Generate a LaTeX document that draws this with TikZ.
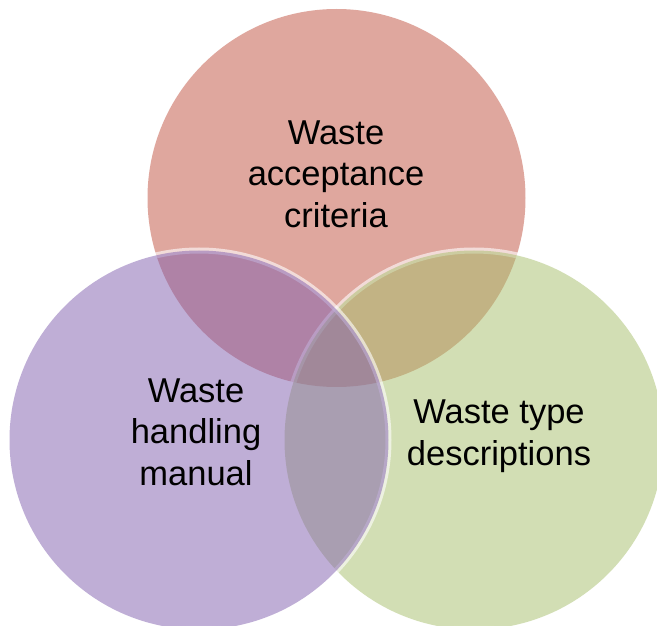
\documentclass[tikz,border=0pt]{standalone}
\usepackage{fontspec}
\setmainfont{Liberation Sans}
\usepackage{tikz}
\definecolor{accred}{HTML}{C1513F}
\definecolor{accgreen}{HTML}{A7BF6B}
\definecolor{accpurple}{HTML}{815FAF}
\tikzset{
  ring/.style={preaction={draw=white, draw opacity=0.6, line width=6pt}, fill=#1, fill opacity=0.5},
  venntext/.style={align=center, inner sep=0pt, font=\fontsize{34.5}{41.5}\selectfont}
}

\begin{document}
\begin{tikzpicture}[x=1pt,y=1pt]
            % Background and bounds
            \fill[white] (0,0) rectangle (657,625);
            \useasboundingbox (0,0) rectangle (657,625);

            % Circle centres
            \coordinate (accept) at (336.5,427);
            \coordinate (types) at (474,185);
            \coordinate (handling) at (199,185);

            % Circles (drawn in this order: red, green, purple)
            \path[ring=accred] (accept) circle (189);
            \path[ring=accgreen] (types) circle (189.5);
            \path[ring=accpurple] (handling) circle (189.5);

            % Labels
            \node[venntext] (acceptlbl) at (336,451) {Waste\\acceptance\\criteria};
            \node[venntext] (handlinglbl) at (196,193) {Waste\\handling\\manual};
            \node[venntext] (typeslbl) at (499,189) {Waste type\\descriptions};
        \end{tikzpicture}
\end{document}
